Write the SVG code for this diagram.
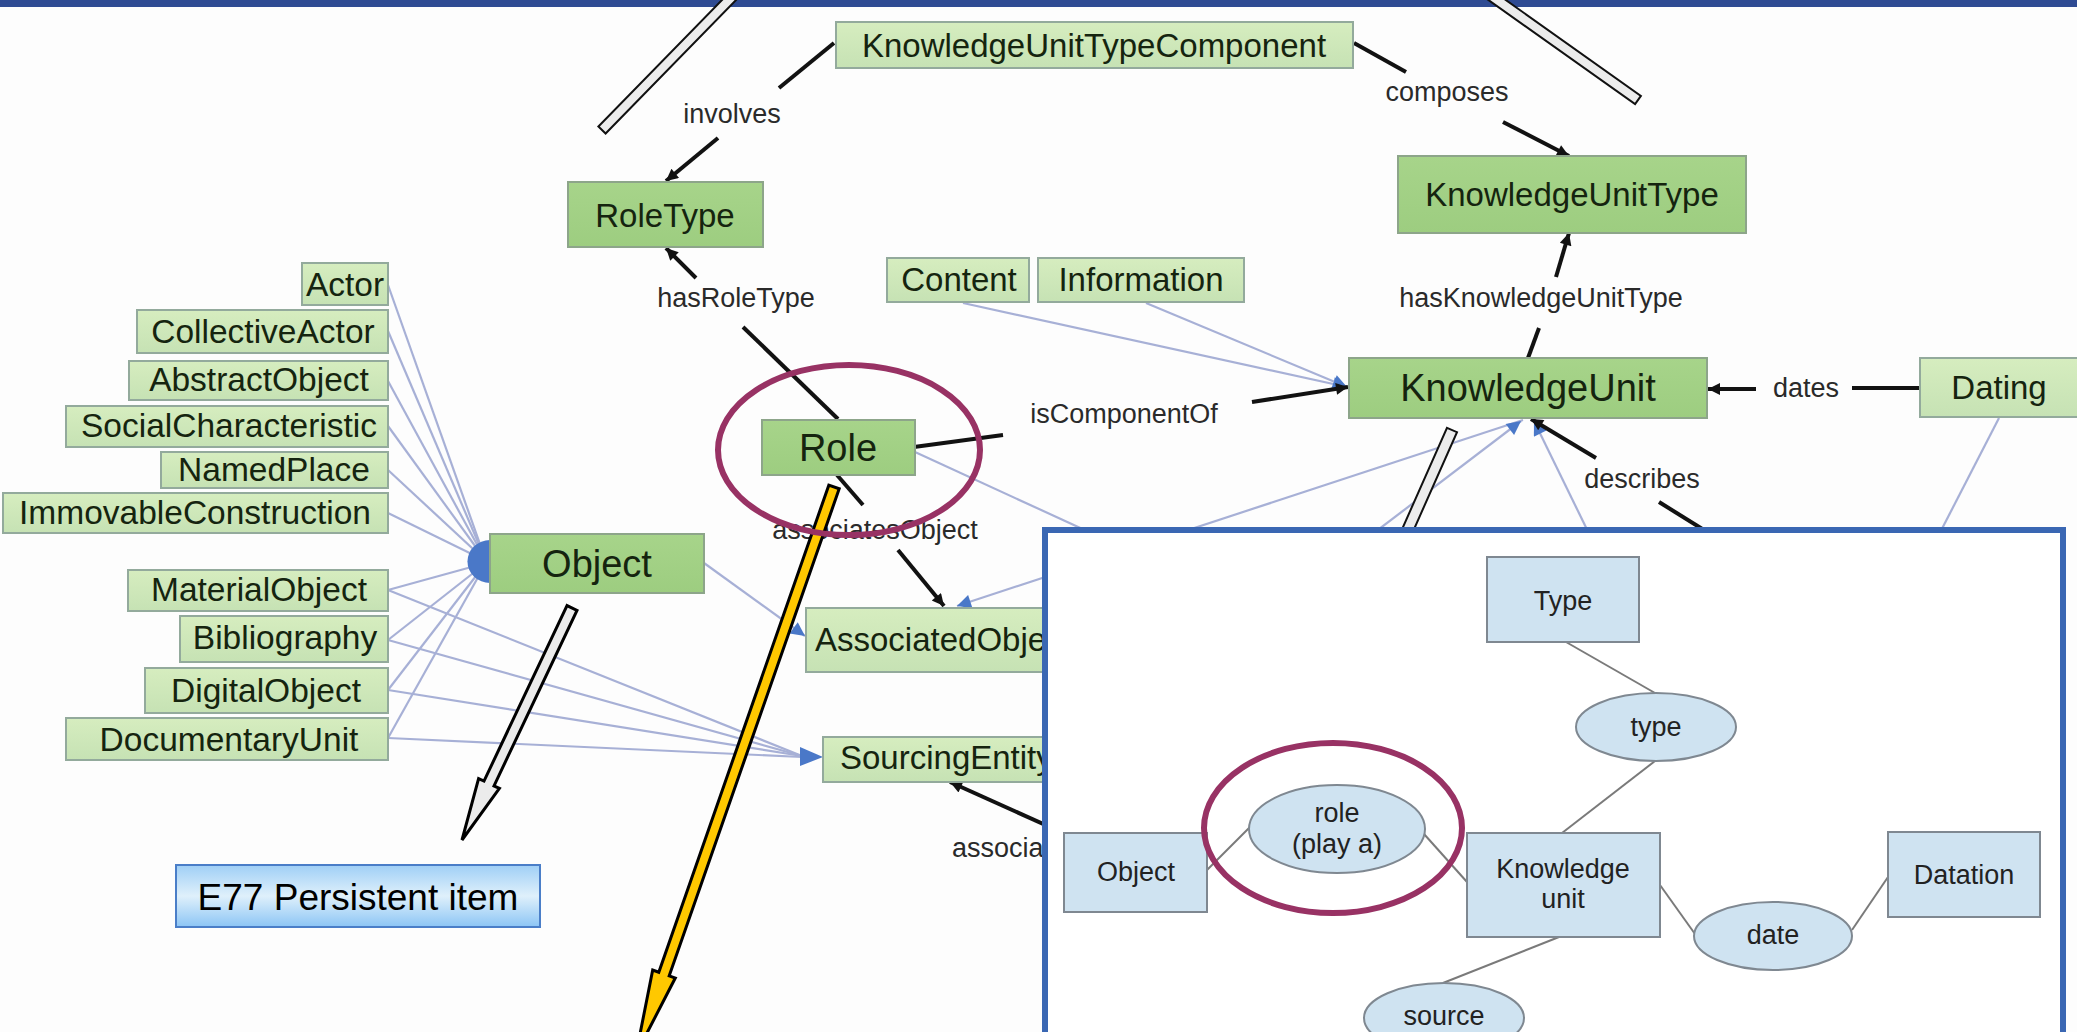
<svg xmlns="http://www.w3.org/2000/svg" width="2077" height="1032" viewBox="0 0 2077 1032">
<style>
.lg{fill:url(#gLight);stroke:#93aa9c;stroke-width:2}
.dg{fill:url(#gDark);stroke:#8da58a;stroke-width:2}
.nt{font-family:"Liberation Sans",Arial,sans-serif;fill:#15240f;text-anchor:middle}
.lt{font-family:"Liberation Sans",Arial,sans-serif;font-size:27px;fill:#2a2a2a;text-anchor:middle}
.thin{stroke:#a7b0d6;stroke-width:2.2;fill:none}
.blk{stroke:#121212;stroke-width:4;fill:none}
.pn{fill:#cfe3f1;stroke:#7f8891;stroke-width:2}
.pl{stroke:#7a7a7a;stroke-width:2;fill:none}
.pt{font-family:"Liberation Sans",Arial,sans-serif;font-size:27px;fill:#222;text-anchor:middle}
.hl{fill:none;stroke:#983264;stroke-width:6}
.strip{fill:#ececec;stroke:#111;stroke-width:2}
</style>
<defs>
<linearGradient id="gLight" x1="0" y1="0" x2="0" y2="1">
<stop offset="0" stop-color="#d6edbf"/><stop offset="1" stop-color="#c6e2b4"/>
</linearGradient>
<linearGradient id="gDark" x1="0" y1="0" x2="0" y2="1">
<stop offset="0" stop-color="#a7d48a"/><stop offset="1" stop-color="#9dcd80"/>
</linearGradient>
<linearGradient id="gE77" x1="0" y1="0" x2="0" y2="1">
<stop offset="0" stop-color="#9fcff6"/><stop offset="0.5" stop-color="#dff0fb"/><stop offset="1" stop-color="#8cc5f5"/>
</linearGradient>
<marker id="ab" viewBox="0 0 10 10" refX="10" refY="5" markerWidth="17" markerHeight="12" markerUnits="userSpaceOnUse" orient="auto"><path d="M0,0 L10,5 L0,10 z" fill="#121212"/></marker>
<marker id="au" viewBox="0 0 10 10" refX="10" refY="5" markerWidth="18" markerHeight="14" markerUnits="userSpaceOnUse" orient="auto"><path d="M0,0 L10,5 L0,10 z" fill="#4a78c8"/></marker>
</defs>
<rect x="0" y="0" width="2077" height="1032" fill="#fdfdfd"/>
<rect x="0" y="0" width="2077" height="7" fill="#2f4b93"/>

<g id="connectors">
<!-- subclass lines into Object -->
<line class="thin" x1="388" y1="285" x2="486" y2="561"/>
<line class="thin" x1="388" y1="331" x2="486" y2="561"/>
<line class="thin" x1="388" y1="381" x2="486" y2="561"/>
<line class="thin" x1="388" y1="426" x2="486" y2="561"/>
<line class="thin" x1="388" y1="470" x2="486" y2="561"/>
<line class="thin" x1="388" y1="513" x2="486" y2="561"/>
<line class="thin" x1="388" y1="590" x2="486" y2="563"/>
<line class="thin" x1="388" y1="640" x2="486" y2="563"/>
<line class="thin" x1="388" y1="690" x2="486" y2="563"/>
<line class="thin" x1="388" y1="738" x2="486" y2="563"/>
<!-- lines into SourcingEntity -->
<line class="thin" x1="388" y1="590" x2="802" y2="756"/>
<line class="thin" x1="388" y1="640" x2="802" y2="756"/>
<line class="thin" x1="388" y1="690" x2="802" y2="756"/>
<line class="thin" x1="388" y1="738" x2="802" y2="757"/>
<!-- Object to AssociatedObject -->
<line class="thin" x1="704" y1="563" x2="805" y2="636" marker-end="url(#au)"/>
<!-- into KnowledgeUnit -->
<line class="thin" x1="963" y1="303" x2="1347" y2="387" marker-end="url(#au)"/>
<line class="thin" x1="1146" y1="303" x2="1347" y2="387" marker-end="url(#au)"/>
<line class="thin" x1="1523" y1="420" x2="957" y2="606" marker-end="url(#au)"/>
<line class="thin" x1="1345" y1="555" x2="1521" y2="421" marker-end="url(#au)"/>
<line class="thin" x1="1598" y1="552" x2="1534" y2="421" marker-end="url(#au)"/>
<line class="thin" x1="915" y1="452" x2="1200" y2="583"/>
<line class="thin" x1="1999" y1="418" x2="1930" y2="552"/>

<!-- black property edges -->
<polyline class="blk" points="834,43 779,88"/>
<line class="blk" x1="718" y1="138" x2="666" y2="181" marker-end="url(#ab)"/>
<polyline class="blk" points="1354,43 1406,72"/>
<line class="blk" x1="1503" y1="122" x2="1569" y2="156" marker-end="url(#ab)"/>
<polyline class="blk" points="838,419 743,327"/>
<line class="blk" x1="696" y1="278" x2="666" y2="248" marker-end="url(#ab)"/>
<polyline class="blk" points="837,475 863,505"/>
<line class="blk" x1="898" y1="550" x2="944" y2="606" marker-end="url(#ab)"/>
<polyline class="blk" points="914,447 1003,435"/>
<line class="blk" x1="1252" y1="402" x2="1348" y2="387" marker-end="url(#ab)"/>
<polyline class="blk" points="1528,358 1539,328"/>
<line class="blk" x1="1556" y1="277" x2="1569" y2="233" marker-end="url(#ab)"/>
<polyline class="blk" points="1919,388 1852,388"/>
<line class="blk" x1="1756" y1="389" x2="1708" y2="389" marker-end="url(#ab)"/>
<polyline class="blk" points="1720,540 1659,502"/>
<line class="blk" x1="1596" y1="458" x2="1531" y2="419" marker-end="url(#ab)"/>
<line class="blk" x1="1070" y1="836" x2="950" y2="782" marker-end="url(#ab)"/>

<!-- edge labels -->
<text class="lt" x="732" y="123">involves</text>
<text class="lt" x="1447" y="101">composes</text>
<text class="lt" x="736" y="307">hasRoleType</text>
<text class="lt" x="1541" y="307">hasKnowledgeUnitType</text>
<text class="lt" x="1124" y="423">isComponentOf</text>
<text class="lt" x="1806" y="397">dates</text>
<text class="lt" x="1642" y="488">describes</text>
<text class="lt" x="875" y="539">associatesObject</text>
<text class="lt" x="952" y="857" style="text-anchor:start">associa</text>
</g>

<!-- blue arrowhead blobs -->
<path d="M490,540 A22,21 0 0 0 490,583 Z" fill="#4a78c8"/>
<path d="M800,747 L823,757 L800,766 Z" fill="#4a78c8"/>

<g id="node-KnowledgeUnitTypeComponent"><rect class="lg" x="836" y="22" width="517" height="46"/><text class="nt" x="1094" y="57" font-size="33">KnowledgeUnitTypeComponent</text></g>
<g id="node-RoleType"><rect class="dg" x="568" y="182" width="195" height="65"/><text class="nt" x="665" y="227" font-size="33">RoleType</text></g>
<g id="node-KnowledgeUnitType"><rect class="dg" x="1398" y="156" width="348" height="77"/><text class="nt" x="1572" y="206" font-size="33">KnowledgeUnitType</text></g>
<g id="node-Content"><rect class="lg" x="887" y="258" width="142" height="44"/><text class="nt" x="959" y="291" font-size="33">Content</text></g>
<g id="node-Information"><rect class="lg" x="1038" y="258" width="206" height="44"/><text class="nt" x="1141" y="291" font-size="33">Information</text></g>
<g id="node-KnowledgeUnit"><rect class="dg" x="1349" y="358" width="358" height="60"/><text class="nt" x="1528" y="401" font-size="38">KnowledgeUnit</text></g>
<g id="node-Dating"><rect class="lg" x="1920" y="358" width="162" height="59"/><text class="nt" x="1999" y="399" font-size="33">Dating</text></g>
<g id="node-Role"><rect class="dg" x="762" y="420" width="153" height="55"/><text class="nt" x="838" y="461" font-size="38">Role</text></g>
<g id="node-Object"><rect class="dg" x="490" y="534" width="214" height="59"/><text class="nt" x="597" y="577" font-size="38">Object</text></g>
<g id="node-AssociatedObject"><rect class="lg" x="806" y="608" width="330" height="64"/><text class="nt" x="815" y="651" font-size="33" style="text-anchor:start">AssociatedObject</text></g>
<g id="node-SourcingEntity"><rect class="lg" x="823" y="737" width="300" height="45"/><text class="nt" x="840" y="769" font-size="33" style="text-anchor:start">SourcingEntity</text></g>

<g id="node-Actor"><rect class="lg" x="302" y="263" width="86" height="42"/><text class="nt" x="345" y="296" font-size="33.5">Actor</text></g>
<g id="node-CollectiveActor"><rect class="lg" x="137" y="310" width="251" height="43"/><text class="nt" x="263" y="343" font-size="33.5">CollectiveActor</text></g>
<g id="node-AbstractObject"><rect class="lg" x="129" y="361" width="259" height="39"/><text class="nt" x="259" y="391" font-size="33.5">AbstractObject</text></g>
<g id="node-SocialCharacteristic"><rect class="lg" x="66" y="406" width="322" height="41"/><text class="nt" x="229" y="437" font-size="33.5">SocialCharacteristic</text></g>
<g id="node-NamedPlace"><rect class="lg" x="161" y="452" width="227" height="36"/><text class="nt" x="274" y="481" font-size="33.5">NamedPlace</text></g>
<g id="node-ImmovableConstruction"><rect class="lg" x="3" y="493" width="385" height="40"/><text class="nt" x="195" y="524" font-size="33.5">ImmovableConstruction</text></g>
<g id="node-MaterialObject"><rect class="lg" x="128" y="570" width="260" height="41"/><text class="nt" x="259" y="601" font-size="33.5">MaterialObject</text></g>
<g id="node-Bibliography"><rect class="lg" x="180" y="616" width="208" height="46"/><text class="nt" x="285" y="649" font-size="33.5">Bibliography</text></g>
<g id="node-DigitalObject"><rect class="lg" x="145" y="668" width="243" height="45"/><text class="nt" x="266" y="702" font-size="33.5">DigitalObject</text></g>
<g id="node-DocumentaryUnit"><rect class="lg" x="66" y="718" width="322" height="42"/><text class="nt" x="229" y="751" font-size="33.5">DocumentaryUnit</text></g>

<g id="node-E77"><rect x="176" y="865" width="364" height="62" fill="url(#gE77)" stroke="#4a7ec8" stroke-width="2"/><text x="358" y="910" font-family="Liberation Sans, Arial, sans-serif" font-size="37" fill="#000" text-anchor="middle">E77 Persistent item</text></g>

<g id="callouts">
<polygon class="strip" points="735.2,-13.5 742.4,-6.5 605.6,133.5 598.4,126.5"/>
<polygon class="strip" points="1480.1,-5.9 1485.9,-14.1 1640.9,95.9 1635.1,104.1"/>
<polygon class="strip" points="1447,427.8 1457,432.2 1399.4,562.2 1389.4,557.8"/>
<polygon points="567,605.6 484,781.1 478.6,778.6 462,840 499.4,788.4 494,785.9 577,610.4" fill="#ebebeb" stroke="#000" stroke-width="3" stroke-linejoin="miter"/>
</g>

<g id="inset">
<rect x="1045" y="530" width="1018" height="530" fill="#ffffff" stroke="#3a67b3" stroke-width="6"/>
<g id="inset-connectors">
<line class="pl" x1="1566" y1="642" x2="1655" y2="693"/>
<line class="pl" x1="1655" y1="761" x2="1562" y2="833"/>
<line class="pl" x1="1206" y1="871" x2="1250" y2="827"/>
<line class="pl" x1="1424" y1="834" x2="1467" y2="882"/>
<line class="pl" x1="1660" y1="885" x2="1695" y2="934"/>
<line class="pl" x1="1852" y1="930" x2="1888" y2="877"/>
<line class="pl" x1="1559" y1="937" x2="1443" y2="983"/>
</g>
<g id="inset-Type"><rect class="pn" x="1487" y="557" width="152" height="85"/><text class="pt" x="1563" y="610">Type</text></g>
<g id="inset-type"><ellipse class="pn" cx="1656" cy="727" rx="80" ry="34"/><text class="pt" x="1656" y="736">type</text></g>
<g id="inset-role"><ellipse class="pn" cx="1337" cy="829" rx="88" ry="44"/><text class="pt" x="1337" y="822">role</text><text class="pt" x="1337" y="853">(play a)</text></g>
<g id="inset-Object"><rect class="pn" x="1064" y="833" width="143" height="79"/><text class="pt" x="1136" y="881">Object</text></g>
<g id="inset-KnowledgeUnit"><rect class="pn" x="1467" y="833" width="193" height="104"/><text class="pt" x="1563" y="878">Knowledge</text><text class="pt" x="1563" y="908">unit</text></g>
<g id="inset-Datation"><rect class="pn" x="1888" y="832" width="152" height="85"/><text class="pt" x="1964" y="884">Datation</text></g>
<g id="inset-date"><ellipse class="pn" cx="1773" cy="936" rx="79" ry="34"/><text class="pt" x="1773" y="944">date</text></g>
<g id="inset-source"><ellipse class="pn" cx="1444" cy="1018" rx="80" ry="35"/><text class="pt" x="1444" y="1025">source</text></g>
</g>

<g id="highlights">
<polygon points="828.8,485.2 658.8,972.2 652.7,970 636,1054.3 675.3,978 669.2,975.8 839.2,488.8" fill="#ffc800" stroke="#000" stroke-width="3"/>
<ellipse class="hl" cx="849" cy="450" rx="131" ry="85"/>
<ellipse class="hl" cx="1333" cy="828" rx="129" ry="85"/>
</g>
</svg>
